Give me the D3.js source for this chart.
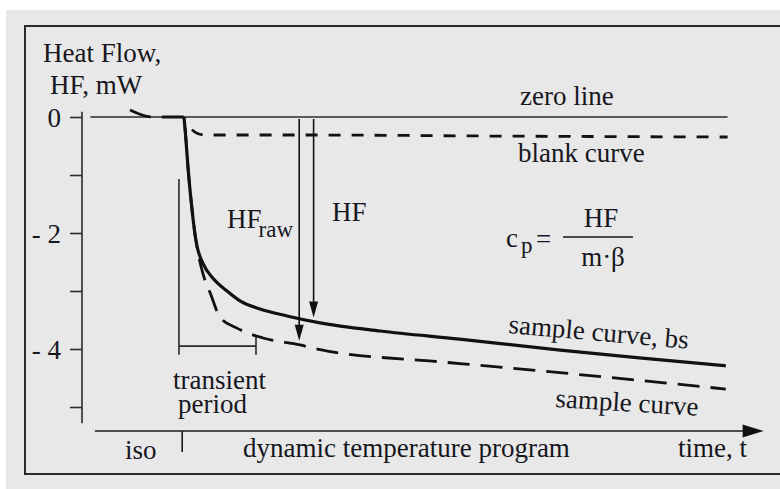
<!DOCTYPE html>
<html lang="en">
<head>
    <meta charset="UTF-8">
    <title>Heat flow</title>
    <script src="https://d3js.org/d3.v7.min.js"></script>
    <style>
        body {
            margin: 0;
            background: #fff;
        }

        svg {
            display: block;
        }

        .axis line, .axis path {
            stroke: #2a2a2a;
            stroke-width: 1.6px;
        }
    </style>
</head>
<body>
<div id='chart'>
    <svg></svg>
</div>

<script>
    // time in arbitrary units (0 = start of heating), heat flow in mW
    const sampleCurveBs = [
        [0, 0], [0.11, -0.40], [0.22, -0.86], [0.39, -1.43], [0.61, -2.02], [0.72, -2.22],
        [1.06, -2.53], [1.61, -2.78], [2.39, -3.0], [3.11, -3.17], [4.22, -3.31], [5.72, -3.43],
        [7.56, -3.55], [10.9, -3.69], [15.3, -3.83], [20.9, -4.02], [25.9, -4.17], [30.1, -4.29]
    ];
    const sampleCurve = [
        [-3.0, 0.12], [-1.78, 0], [0, 0], [0.11, -0.40], [0.22, -0.86], [0.39, -1.43],
        [0.61, -2.02], [0.72, -2.24], [1.0, -2.64], [1.5, -3.07], [2.0, -3.45], [2.94, -3.64],
        [4.39, -3.81], [6.44, -3.93], [7.56, -4.01], [14.2, -4.22], [16.4, -4.28], [30.1, -4.69]
    ];
    const blankCurve = [
        [0.44, -0.22], [0.72, -0.28], [1.17, -0.31], [6.4, -0.31], [18, -0.33], [30.2, -0.345]
    ];
    const zeroLine = [[-5.2, 0], [30.2, 0]];

    const yTicks = [0, -1, -2, -3, -4, -5];
    const yTickLabels = ['0', '', '- 2', '', '- 4', ''];
    const yAxisExtent = [0.09, -5.28];

    const timeAxisExtent = [-4.95, 32.2];
    const isoBoundary = -0.1;
    const transientPeriod = [-0.28, 4.0];
    const transientBracket = [-1.07, -3.95, -4.1];   // top, bar level, bottom
    const arrowTimes = {raw: 6.4, bs: 7.2};

    const width = 780, height = 489;
    const serif = '"Liberation Serif", "Times New Roman", serif';

    const x = d3.scaleLinear().domain([0, 30]).range([184, 724]);
    const y = d3.scaleLinear().domain([0, -5]).range([117, 407]);

    const svg = d3.select('svg')
        .attr('width', width)
        .attr('height', height)
        .style('font-size', '27px');

    // background panel and frame
    svg.append('rect')
        .attr('x', 6).attr('y', 10)
        .attr('width', 800).attr('height', 490)
        .attr('fill', '#e8e8e8');

    svg.append('rect')
        .attr('x', 25).attr('y', 26)
        .attr('width', 800).attr('height', 448)
        .attr('fill', 'none')
        .attr('stroke', '#2a2a2a')
        .attr('stroke-width', 2);

    function label(xp, yp, str) {
        return svg.append('text')
            .attr('x', xp).attr('y', yp)
            .attr('font-family', serif)
            .attr('fill', '#161620')
            .text(str);
    }

    // y axis
    const yAxis = svg.append('g')
        .attr('class', 'axis')
        .attr('transform', 'translate(82,0)')
        .call(d3.axisLeft(y)
            .tickValues(yTicks)
            .tickSize(12)
            .tickSizeOuter(0)
            .tickPadding(9)
            .tickFormat((d, i) => yTickLabels[i]));
    yAxis.select('.domain').remove();
    yAxis.attr('font-size', 27).attr('font-family', serif);
    yAxis.selectAll('text')
        .attr('fill', '#161620')
        .attr('dy', '0.34em');
    yAxis.append('line')
        .attr('y1', y(yAxisExtent[0]))
        .attr('y2', y(yAxisExtent[1]));

    label(43, 62, 'Heat Flow,');
    label(50, 94, 'HF, mW');

    // time axis with arrow
    const axisY = 431;
    svg.append('line')
        .attr('x1', x(timeAxisExtent[0])).attr('x2', x(timeAxisExtent[1]) - 16)
        .attr('y1', axisY).attr('y2', axisY)
        .attr('stroke', '#1a1a1a').attr('stroke-width', 1.6);
    svg.append('path')
        .attr('d', `M${x(timeAxisExtent[1])},${axisY} l-21,-6.5 l0,13 Z`)
        .attr('fill', '#111');
    svg.append('line')
        .attr('x1', x(isoBoundary)).attr('x2', x(isoBoundary))
        .attr('y1', axisY).attr('y2', axisY + 21)
        .attr('stroke', '#1a1a1a').attr('stroke-width', 1.6);

    label(125, 459, 'iso');
    label(243, 457, 'dynamic temperature program');
    label(678, 457, 'time, t');

    // curves
    const line = d3.line()
        .x(d => x(d[0]))
        .y(d => y(d[1]))
        .curve(d3.curveMonotoneX);

    svg.append('path')
        .attr('d', d3.line().x(d => x(d[0])).y(d => y(d[1]))(zeroLine))
        .attr('fill', 'none')
        .attr('stroke', '#2a2a2a')
        .attr('stroke-width', 1.6);

    svg.append('path')
        .attr('d', line(blankCurve))
        .attr('fill', 'none')
        .attr('stroke', '#111')
        .attr('stroke-width', 2.8)
        .attr('stroke-dasharray', '12,11');

    svg.append('path')
        .attr('d', line(sampleCurve))
        .attr('fill', 'none')
        .attr('stroke', '#111')
        .attr('stroke-width', 2.8)
        .attr('stroke-dasharray', '22,11');

    svg.append('path')
        .attr('d', line(sampleCurveBs))
        .attr('fill', 'none')
        .attr('stroke', '#111')
        .attr('stroke-width', 3.2);

    // arrows from zero line down to the curves
    function valueAt(curve, t) {
        for (let i = 1; i < curve.length; i++) {
            if (t <= curve[i][0]) {
                const [t0, v0] = curve[i - 1];
                const [t1, v1] = curve[i];
                return v0 + (v1 - v0) * (t - t0) / (t1 - t0);
            }
        }
        return curve[curve.length - 1][1];
    }

    function arrow(t, curve) {
        const px = x(t);
        const tip = y(valueAt(curve, t)) - 4;
        svg.append('line')
            .attr('x1', px).attr('x2', px)
            .attr('y1', y(0) + 2).attr('y2', tip - 10)
            .attr('stroke', '#111').attr('stroke-width', 1.6);
        svg.append('path')
            .attr('d', `M${px},${tip} l-4.5,-16 l9,0 Z`)
            .attr('fill', '#111');
    }

    arrow(arrowTimes.raw, sampleCurve);
    arrow(arrowTimes.bs, sampleCurveBs);

    // transient period bracket
    const bracket = svg.append('g')
        .attr('stroke', '#2a2a2a')
        .attr('stroke-width', 1.6);
    bracket.append('line')
        .attr('x1', x(transientPeriod[0])).attr('x2', x(transientPeriod[0]))
        .attr('y1', y(transientBracket[0])).attr('y2', y(transientBracket[2]));
    bracket.append('line')
        .attr('x1', x(transientPeriod[0])).attr('x2', x(transientPeriod[1]))
        .attr('y1', y(transientBracket[1])).attr('y2', y(transientBracket[1]));
    bracket.append('line')
        .attr('x1', x(transientPeriod[1])).attr('x2', x(transientPeriod[1]))
        .attr('y1', y(transientBracket[1]) - 9).attr('y2', y(transientBracket[2]));

    label(173, 389, 'transient');
    label(178, 413, 'period');

    // labels
    label(520, 105, 'zero line');
    label(518, 162, 'blank curve');

    const hfRaw = label(227, 228, null);
    hfRaw.append('tspan').text('HF');
    hfRaw.append('tspan').attr('dx', -3).attr('dy', 9).style('font-size', '23px').text('raw');

    label(332, 221, 'HF');

    label(0, 0, 'sample curve, bs')
        .attr('transform', 'translate(508,333) rotate(5)');
    label(0, 0, 'sample curve')
        .attr('transform', 'translate(555,407) rotate(3.5)');

    // c_p = HF / (m·β)
    const cp = label(506, 247, null);
    cp.append('tspan').text('c');
    cp.append('tspan').attr('dx', 3).attr('dy', 6).style('font-size', '23px').text('p');
    label(536, 248, '=');
    svg.append('line')
        .attr('x1', 563).attr('x2', 633)
        .attr('y1', 237).attr('y2', 237)
        .attr('stroke', '#161620').attr('stroke-width', 1.5);
    label(601, 227, 'HF').attr('text-anchor', 'middle');
    label(603, 266, 'm\u00b7\u03b2').attr('text-anchor', 'middle');
</script>
</body>
</html>
